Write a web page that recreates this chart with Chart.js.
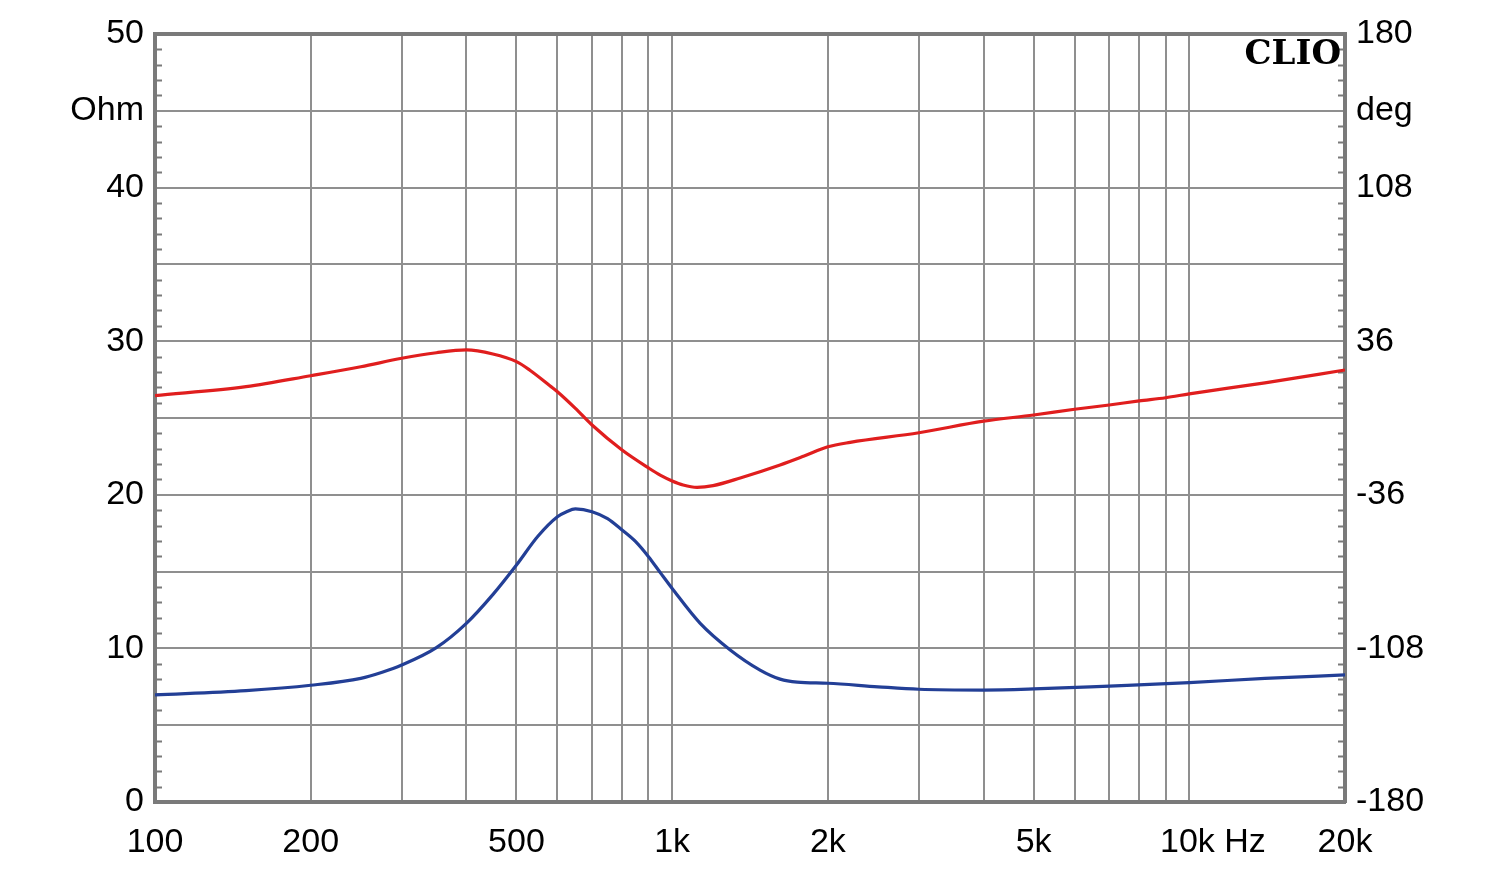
<!DOCTYPE html>
<html>
<head>
<meta charset="utf-8">
<script src="https://cdn.jsdelivr.net/npm/chart.js@4.4.1/dist/chart.umd.min.js"></script>
<style>
  html, body { margin: 0; padding: 0; background: #ffffff; }
  #wrap { width: 1500px; height: 870px; position: relative; }
</style>
</head>
<body>
<div id="wrap"><canvas id="c" width="1500" height="870"></canvas></div>
<script>
// ---- Data ----
const impFreq = [100, 150, 200, 250, 275, 300, 350, 400, 450, 500, 550, 600, 625, 650, 700, 750, 800, 850, 900, 950, 1000, 1133, 1295, 1479, 1617, 1745, 2000, 2500, 3000, 4000, 5000, 7000, 10000, 14000, 20000];
const impOhm  = [6.97, 7.25, 7.6, 8.05, 8.45, 8.92, 10.05, 11.63, 13.5, 15.43, 17.3, 18.57, 18.9, 19.08, 18.9, 18.45, 17.71, 16.95, 15.97, 14.9, 13.9, 11.63, 9.9, 8.59, 8.0, 7.8, 7.73, 7.5, 7.34, 7.29, 7.36, 7.55, 7.77, 8.05, 8.27];

const phaseFreq = [100, 150, 200, 250, 300, 350, 400, 450, 500, 530, 581, 600, 650, 700, 800, 900, 950, 1000, 1050, 1117, 1200, 1354, 1617, 1800, 2000, 2209, 3000, 4000, 5000, 6000, 7000, 8000, 9000, 10000, 14000, 20000];
const phaseDeg  = [10.5, 14.7, 19.8, 24, 28.0, 30.6, 31.9, 30.0, 26.4, 22.5, 15.0, 12.3, 4.5, -3.3, -15, -23.4, -26.9, -29.5, -31.4, -32.5, -31.7, -28.1, -22, -17.8, -13.5, -11.4, -6.9, -1.5, 1.4, 4.1, 6.1, 8, 9.5, 11.3, 16.5, 22.5];

const xGridValues = [100, 200, 300, 400, 500, 600, 700, 800, 900, 1000, 2000, 3000, 4000, 5000, 6000, 7000, 8000, 9000, 10000, 20000];
const xTickLabels = {100: '100', 200: '200', 500: '500', 1000: '1k', 2000: '2k', 5000: '5k', 10000: '     10k Hz', 20000: '20k'};
const leftTickLabels = {0: '0', 10: '10', 20: '20', 30: '30', 40: '40', 45: 'Ohm', 50: '50'};
const rightTickLabels = {'-180': '-180', '-108': '-108', '-36': '-36', '36': '36', '108': '108', '144': 'deg', '180': '180'};

// ---- Styles ----
const gridColor = '#8f8f8f';
const frameColor = '#7a7a7a';
const labelFont = { family: '"Liberation Sans", Arial, sans-serif', size: 34 };

const decoPlugin = {
  id: 'deco',
  beforeDatasetsDraw(chart) {
    const ctx = chart.ctx;
    const ys = chart.scales.y;
    const area = chart.chartArea;
    ctx.save();
    ctx.strokeStyle = frameColor;
    ctx.lineWidth = 2;
    for (let v = 1; v < 50; v++) {
      if (v % 5 === 0) continue;
      const py = Math.round(ys.getPixelForValue(v)) + 0.5;
      ctx.beginPath();
      ctx.moveTo(area.left, py); ctx.lineTo(area.left + 7, py);
      ctx.moveTo(area.right - 7, py); ctx.lineTo(area.right, py);
      ctx.stroke();
    }
    ctx.restore();
  },
  afterDraw(chart) {
    const ctx = chart.ctx;
    const area = chart.chartArea;
    ctx.save();
    ctx.font = 'bold 34px "DejaVu Serif", "Liberation Serif", serif';
    ctx.fillStyle = '#000';
    ctx.textAlign = 'right';
    ctx.textBaseline = 'alphabetic';
    ctx.fillText('CLIO', area.right - 4, area.top + 30);
    ctx.restore();
  }
};

new Chart(document.getElementById('c'), {
  type: 'line',
  data: {
    datasets: [
      {
        label: 'Impedance',
        data: impFreq.map((f, i) => ({ x: f, y: impOhm[i] })),
        yAxisID: 'y',
        borderColor: '#233f96',
        borderWidth: 3.2,
        pointRadius: 0,
        cubicInterpolationMode: 'monotone',
        fill: false
      },
      {
        label: 'Phase',
        data: phaseFreq.map((f, i) => ({ x: f, y: phaseDeg[i] })),
        yAxisID: 'y1',
        borderColor: '#e01e1e',
        borderWidth: 3.2,
        pointRadius: 0,
        cubicInterpolationMode: 'monotone',
        fill: false
      }
    ]
  },
  options: {
    responsive: false,
    animation: false,
    devicePixelRatio: 1,
    layout: { padding: { top: 34, left: 0, right: 0, bottom: 0 } },
    plugins: { legend: { display: false }, tooltip: { enabled: false } },
    scales: {
      x: {
        type: 'logarithmic',
        min: 100,
        max: 20000,
        afterBuildTicks: (s) => { s.ticks = xGridValues.map(v => ({ value: v })); },
        afterFit: (s) => { s.height = 68; },
        ticks: {
          autoSkip: false,
          maxRotation: 0,
          minRotation: 0,
          padding: 20,
          color: '#000',
          font: labelFont,
          callback: (v) => (xTickLabels[v] !== undefined ? xTickLabels[v] : '')
        },
        grid: {
          drawTicks: false,
          color: (c) => (c.tick && c.tick.value === 20000 ? frameColor : gridColor),
          lineWidth: (c) => (c.tick && c.tick.value === 20000 ? 4 : 2)
        },
        border: { display: true, color: frameColor, width: 4 }
      },
      y: {
        position: 'left',
        min: 0,
        max: 50,
        afterFit: (s) => { s.width = 155; },
        ticks: {
          stepSize: 5,
          padding: 11,
          color: '#000',
          font: labelFont,
          callback: (v) => (leftTickLabels[v] !== undefined ? leftTickLabels[v] : '')
        },
        grid: {
          drawTicks: false,
          color: (c) => (c.tick && c.tick.value === 50 ? frameColor : gridColor),
          lineWidth: (c) => (c.tick && c.tick.value === 50 ? 4 : 2)
        },
        border: { display: true, color: frameColor, width: 4 }
      },
      y1: {
        position: 'right',
        min: -180,
        max: 180,
        afterFit: (s) => { s.width = 155; },
        ticks: {
          stepSize: 36,
          padding: 11,
          color: '#000',
          font: labelFont,
          callback: (v) => {
            const k = String(Math.round(v));
            return rightTickLabels[k] !== undefined ? rightTickLabels[k] : '';
          }
        },
        grid: { drawOnChartArea: false, drawTicks: false },
        border: { display: true, color: frameColor, width: 4 }
      }
    }
  },
  plugins: [decoPlugin]
});
</script>
</body>
</html>
